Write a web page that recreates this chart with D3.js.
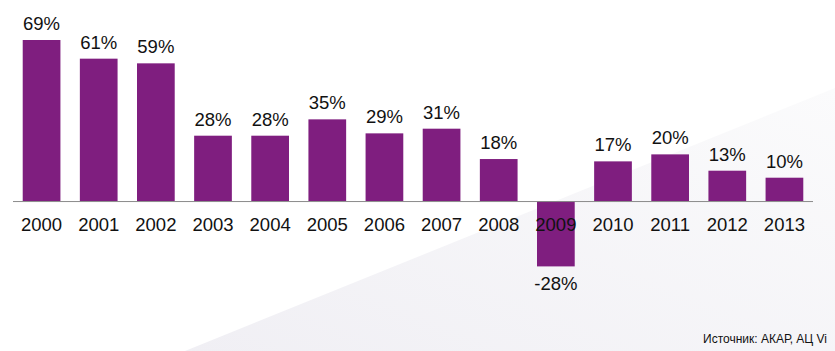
<!DOCTYPE html>
<html>
<head>
<meta charset="utf-8">
<script src="https://cdn.jsdelivr.net/npm/d3@7"></script>
<style>
	body { margin: 0; background: #fff; }
	#chart { width: 835px; height: 351px; }
	text { font-family: Arial, "Liberation Sans", sans-serif; fill: #111; }
</style>
</head>
<body>
<div id="chart"></div>
<script>
var years = ["2000", "2001", "2002", "2003", "2004", "2005", "2006", "2007", "2008", "2009", "2010", "2011", "2012", "2013"];
var growth = [69, 61, 59, 28, 28, 35, 29, 31, 18, -28, 17, 20, 13, 10];
var sourceNote = "Источник: АКАР, АЦ Vi";

var data = years.map(function(y, i) {
	return { year: y, value: growth[i] };
});

var width = 835;
var height = 351;

var svg = d3.select("#chart")
	.append("svg")
	.attr("width", width)
	.attr("height", height);

// faint grey wedge in the lower right
var defs = svg.append("defs");
var grad = defs.append("linearGradient")
	.attr("id", "bg")
	.attr("x1", "0").attr("y1", "1")
	.attr("x2", "1").attr("y2", "0");
grad.append("stop").attr("offset", "0").attr("stop-color", "#f0eff4");
grad.append("stop").attr("offset", "1").attr("stop-color", "#fbfbfc");

svg.append("polygon")
	.attr("points", "185,351 835,88 835,351")
	.attr("fill", "url(#bg)");

var x = d3.scaleBand()
	.domain(years)
	.range([13, 813])
	.paddingInner(0.34)
	.paddingOuter(0.17);

var y = d3.scaleLinear()
	.domain([-28, 69])
	.range([266.4, 40]);

svg.selectAll("rect.bar")
	.data(data)
	.enter()
	.append("rect")
	.attr("class", "bar")
	.attr("x", function(d) { return x(d.year); })
	.attr("y", function(d) { return y(Math.max(0, d.value)); })
	.attr("width", x.bandwidth())
	.attr("height", function(d) { return Math.abs(y(d.value) - y(0)); })
	.attr("fill", "#7f1e7f");

// baseline
svg.append("line")
	.attr("x1", 13)
	.attr("x2", 813)
	.attr("y1", y(0) + 0.5)
	.attr("y2", y(0) + 0.5)
	.attr("stroke", "#8a8a8a")
	.attr("stroke-width", 1);

// year labels
svg.selectAll("text.year")
	.data(data)
	.enter()
	.append("text")
	.attr("class", "year")
	.attr("x", function(d) { return x(d.year) + x.bandwidth() / 2; })
	.attr("y", 230.5)
	.attr("text-anchor", "middle")
	.style("font-size", "18.5px")
	.text(function(d) { return d.year; });

// value labels
svg.selectAll("text.val")
	.data(data)
	.enter()
	.append("text")
	.attr("class", "val")
	.attr("x", function(d) { return x(d.year) + x.bandwidth() / 2; })
	.attr("y", function(d) {
		return d.value >= 0 ? y(d.value) - 10 : y(d.value) + 24;
	})
	.attr("text-anchor", "middle")
	.style("font-size", "18.5px")
	.text(function(d) { return d.value + "%"; });

svg.append("text")
	.attr("x", 827)
	.attr("y", 343)
	.attr("text-anchor", "end")
	.style("font-size", "12px")
	.text(sourceNote);
</script>
</body>
</html>
